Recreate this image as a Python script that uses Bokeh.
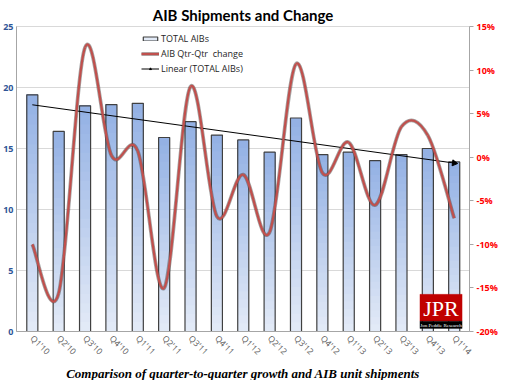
import math
import numpy as np
from bokeh.plotting import figure
from bokeh.models import (Range1d, LinearAxis, FixedTicker, PrintfTickFormatter,
                          Legend, LegendItem, Title, BoxAnnotation, Label, ColumnDataSource)
from bokeh.embed import file_html
from bokeh.resources import INLINE

# ---------------- data ----------------
quarters = ["Q1'10", "Q2'10", "Q3'10", "Q4'10", "Q1'11", "Q2'11", "Q3'11", "Q4'11",
            "Q1'12", "Q2'12", "Q3'12", "Q4'12", "Q1'13", "Q2'13", "Q3'13", "Q4'13", "Q1'14"]
total_aibs = [19.4, 16.4, 18.5, 18.6, 18.7, 15.9, 17.2, 16.1,
              15.7, 14.7, 17.5, 14.5, 14.7, 14.0, 14.5, 15.0, 13.9]
qtr_change = [-10.0, -15.6, 12.6, 0.2, 0.7, -15.0, 8.1, -6.8,
              -2.0, -8.6, 10.7, -1.8, 1.7, -5.5, 3.5, 2.5, -7.0]
left_ticks = [0, 5, 10, 15, 20, 25]
right_ticks = [-20, -15, -10, -5, 0, 5, 10, 15]

xs = list(range(len(quarters)))

p = figure(width=500, height=380, x_range=Range1d(-0.6, 16.58), y_range=Range1d(0, 25),
           output_backend="svg", toolbar_location=None,
           min_border_left=4, min_border_right=0, min_border_top=0, min_border_bottom=0)
p.extra_y_ranges = {"pct": Range1d(-20, 15)}

# ---------------- bars with vertical gradient ----------------
def mix(c1, c2, t):
    a = [int(c1[i:i + 2], 16) for i in (1, 3, 5)]
    b = [int(c2[i:i + 2], 16) for i in (1, 3, 5)]
    return "#%02x%02x%02x" % tuple(round(a[k] + (b[k] - a[k]) * t) for k in range(3))

top_col, bot_col = "#92b0e4", "#e4ebf7"
N = 24
gx, gb, gt, gc = [], [], [], []
for j in range(N):           # from the bottom band up; each band reaches the bar top
    t = (j + 0.5) / N
    for i, v in enumerate(total_aibs):
        gx.append(i)
        gb.append(v * j / N)
        gt.append(v)
        gc.append(mix(bot_col, top_col, t))
grad = p.vbar(x="x", top="top", bottom="bottom", width=0.42,
              source=ColumnDataSource(dict(x=gx, bottom=gb, top=gt, c=gc)),
              fill_color="c", line_color=None)
outline = p.vbar(x=xs, top=total_aibs, bottom=0, width=0.42, fill_alpha=0,
                 line_color="#404040", line_width=1.2)

# ---------------- trend line ----------------
k, b = np.polyfit(xs, total_aibs, 1)
tx = [xs[0], xs[-1]]
ty = [k * xs[0] + b, k * xs[-1] + b]
trend = p.line(tx, ty, line_color="black", line_width=1)
ang = -(math.pi / 2) + math.atan(k * (306 / 25) / 26.9)
head = p.scatter([tx[1]], [ty[1]], marker="triangle", size=6, angle=ang,
                 fill_color="black", line_color="black")

# ---------------- smoothed change curve ----------------
q = qtr_change
bx0, by0, bx1, by1, c0x, c0y, c1x, c1y = ([] for _ in range(8))
n = len(q)
for i in range(n - 1):
    i0 = max(i - 1, 0)
    i3 = min(i + 2, n - 1)
    bx0.append(xs[i]); by0.append(q[i])
    bx1.append(xs[i + 1]); by1.append(q[i + 1])
    c0x.append(xs[i] + (xs[i + 1] - xs[i0]) / 6); c0y.append(q[i] + (q[i + 1] - q[i0]) / 6)
    c1x.append(xs[i + 1] - (xs[i3] - xs[i]) / 6); c1y.append(q[i + 1] - (q[i3] - q[i]) / 6)
shadow = p.bezier(x0=bx0, y0=by0, x1=bx1, y1=by1, cx0=c0x, cy0=c0y, cx1=c1x, cy1=c1y,
                  y_range_name="pct", line_color="#3a3a3a", line_alpha=0.45, line_width=3.8)
red = p.bezier(x0=bx0, y0=by0, x1=bx1, y1=by1, cx0=c0x, cy0=c0y, cx1=c1x, cy1=c1y,
               y_range_name="pct", line_color="#c0504d", line_width=2.3)

# ---------------- axes ----------------
p.yaxis.ticker = FixedTicker(ticks=left_ticks)
p.yaxis.major_label_text_color = "#2f5597"
p.yaxis.major_label_text_font_style = "bold"
p.yaxis.major_label_text_font_size = "9px"
p.yaxis.major_label_text_font = "Open Sans"
p.yaxis.axis_line_color = "#a6a6a6"
p.yaxis.major_tick_out = 0
p.yaxis.major_tick_in = 0
p.yaxis.minor_tick_line_color = None
p.yaxis.major_label_standoff = 3

ra = LinearAxis(y_range_name="pct", ticker=FixedTicker(ticks=right_ticks),
                formatter=PrintfTickFormatter(format="%d%%"))
ra.major_label_text_color = "#ff0000"
ra.major_label_text_font_style = "bold"
ra.major_label_text_font_size = "9px"
ra.major_label_text_font = "Open Sans"
ra.axis_line_color = "#a6a6a6"
ra.major_tick_line_color = "#a6a6a6"
ra.major_tick_out = 4
ra.major_tick_in = 0
ra.minor_tick_line_color = None
ra.major_label_standoff = 3
p.add_layout(ra, "right")

p.xaxis.ticker = FixedTicker(ticks=xs)
p.xaxis.major_label_overrides = {i: s for i, s in zip(xs, quarters)}
p.xaxis.major_label_orientation = -math.pi / 4
p.xaxis.major_label_text_font_size = "8.5px"
p.xaxis.major_label_text_color = "#595959"
p.xaxis.major_label_text_font = "Open Sans"
p.xaxis.axis_line_color = "#a6a6a6"
p.xaxis.major_tick_line_color = None
p.xaxis.major_tick_out = 0
p.xaxis.major_tick_in = 0
p.xaxis.minor_tick_line_color = None
p.xaxis.major_label_standoff = 5

p.xgrid.visible = False
p.ygrid.grid_line_color = "#d9d9d9"
p.outline_line_color = "#d9d9d9"

# ---------------- titles ----------------
p.title.text = "AIB Shipments and Change"
p.title.align = "center"
p.title.text_font = "Lato"
p.title.text_font_size = "15px"
p.title.text_font_style = "bold"
p.title.text_color = "black"
p.title.offset = 0
p.title.standoff = 6

cap = Title(text="Comparison of quarter-to-quarter growth and AIB unit shipments",
            align="center", text_font="Liberation Serif", text_font_style="bold italic",
            text_font_size="13px", text_color="black", standoff=0)
p.add_layout(cap, "below")

# ---------------- legend ----------------
legend = Legend(items=[
    LegendItem(label="TOTAL AIBs", renderers=[grad, outline], index=0),
    LegendItem(label="AIB Qtr-Qtr  change", renderers=[shadow, red]),
    LegendItem(label="Linear (TOTAL AIBs)", renderers=[trend, head]),
], location=(125, 256), border_line_color=None, background_fill_alpha=0,
    label_text_font_size="9px", label_text_font="Open Sans", label_text_color="#262626",
    glyph_width=18, glyph_height=5, label_height=12, spacing=2, padding=2, margin=0,
    label_standoff=2)
p.add_layout(legend, "center")

# ---------------- JPR logo ----------------
p.add_layout(BoxAnnotation(left=14.7, right=16.3, bottom=0.85, top=3.05,
                           fill_color="#c00000", fill_alpha=1, line_color="#c00000"))
p.add_layout(BoxAnnotation(left=14.7, right=16.3, bottom=0.25, top=0.85,
                           fill_color="black", fill_alpha=1, line_color="black"))
p.add_layout(Label(x=15.5, y=0.9, text="JPR", text_align="center", text_color="white",
                   text_font="Liberation Serif", text_font_size="22px"))
p.add_layout(Label(x=15.5, y=0.3, text="Jon Peddie Research", text_align="center",
                   text_color="white", text_font="Liberation Sans Narrow", text_font_size="5px"))

open("out.html", "w").write(file_html(p, INLINE))
